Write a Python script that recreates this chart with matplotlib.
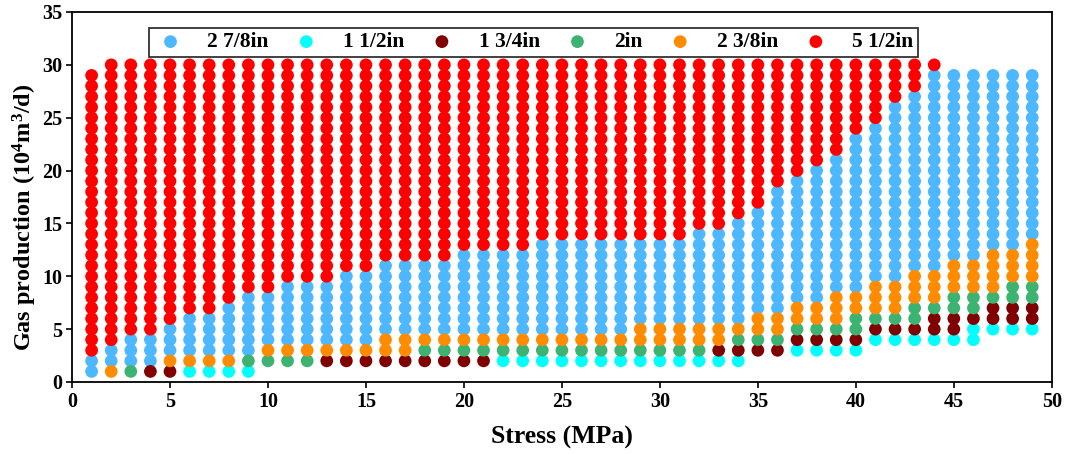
import matplotlib
matplotlib.use("Agg")
import matplotlib.pyplot as plt
import numpy as np

# Stress values (MPa)
stress = list(range(1, 50))

# Lowest gas-production level (10^4 m3/d) drawn for each stress
start_level = [1]*9 + [2]*25 + [3]*6 + [4]*6 + [5]*3

# Number of points per tubing size at each stress (stacked bottom->top in order
# 1 1/2in, 1 3/4in, 2in, 2 3/8in, 2 7/8in, 5 1/2in)
n_1_1_2 = [0,0,0,0,0,1,1,1,1] + [0]*12 + [1]*13 + [0,0] + [1,1,1,1] + [1,1,1,1,1,2] + [1,1,1]
n_1_3_4 = [0,0,0,1,1] + [0]*7 + [1]*9 + [0]*11 + [1,1,1,1] + [1,1,1,1] + [1,1,1,2,2,1] + [2,2,2]
n_2 = [0,0,1,0,0,0,0,0,1,1,1,1] + [0]*5 + [1]*15 + [0] + [1,1,1,1,1,1,2] + [1,1,2,1,2,2] + [1,2,2]
n_2_3_8 = [0,1,0,0,1,1,1,1,0] + [1]*6 + [2,2] + [1]*11 + [2]*5 + [1] + [2,2,2,2,3,2] + [3,3,3,3,3,3] + [4,3,4]
n_2_7_8 = [2,2,3,3,3,4,4,5,6,5,6,6,6,7,7,7,7,7,7,8,8,8,8,9,9,9,9,9,
           8,8,8,9,9,10,10,12,12,13,13,15,15,17,17,19,18,18,17,17,16]
n_5_1_2 = [27,27,26,26,25,24,24,23,22,22,21,21,21,20,20,19,19,19,19,18,18,18,18,
           17,17,17,17,17,17,17,17,16,16,15,14,12,11,10,9,7,6,4,3,1,0,0,0,0,0]

labels = ["2 7/8in", "1 1/2in", "1 3/4in", "2in", "2 3/8in", "5 1/2in"]
colors = {"2 7/8in": "#4DB8FF", "1 1/2in": "#00FFFF", "1 3/4in": "#800000",
          "2in": "#3CB371", "2 3/8in": "#FF8C00", "5 1/2in": "#FF0000"}
stack_order = ["1 1/2in", "1 3/4in", "2in", "2 3/8in", "2 7/8in", "5 1/2in"]
counts = {"1 1/2in": n_1_1_2, "1 3/4in": n_1_3_4, "2in": n_2,
          "2 3/8in": n_2_3_8, "2 7/8in": n_2_7_8, "5 1/2in": n_5_1_2}

pts = {k: ([], []) for k in labels}
for i, s in enumerate(stress):
    lvl = start_level[i]
    for k in stack_order:
        for _ in range(counts[k][i]):
            pts[k][0].append(s)
            pts[k][1].append(lvl)
            lvl += 1

plt.rcParams['font.family'] = ['Liberation Serif', 'DejaVu Serif']
plt.rcParams['mathtext.fontset'] = 'custom'
plt.rcParams['mathtext.rm'] = 'Liberation Serif:bold'
plt.rcParams['mathtext.it'] = 'Liberation Serif:bold'
plt.rcParams['mathtext.bf'] = 'Liberation Serif:bold'

fig = plt.figure(figsize=(10.7, 4.54), dpi=100)
ax = fig.add_axes([0.0673, 0.1586, 0.9157, 0.815])

handles = []
for k in labels:
    h = ax.scatter(pts[k][0], pts[k][1], s=84, color=colors[k], edgecolors='none',
                   label=k, zorder=3)
    handles.append(h)

ax.set_xlim(0, 50)
ax.set_ylim(0, 35)
ax.set_xticks(range(0, 51, 5))
ax.set_yticks(range(0, 36, 5))
for lab in ax.get_xticklabels() + ax.get_yticklabels():
    lab.set_fontweight('bold')
    lab.set_fontsize(14.5)
for sp in ax.spines.values():
    sp.set_linewidth(1.3)
ax.tick_params(direction='out', length=4, width=1.2, pad=3)

ax.set_xlabel("Stress (MPa)", fontsize=18.5, fontweight='bold', labelpad=10)
ax.set_ylabel(r"Gas production (10$^{4}$m$^{3}$/d)", fontsize=17.5, fontweight='bold')
ax.yaxis.set_label_coords(-0.034, 0.446)

leg = ax.legend(handles=handles, labels=labels, loc='upper center',
                bbox_to_anchor=(0.471, 0.957), ncol=6, frameon=True, fancybox=False,
                edgecolor='black', prop={'weight': 'bold', 'size': 15.5},
                handletextpad=0.9, columnspacing=0.95, borderpad=0.2,
                borderaxespad=0.0, handlelength=1.6, markerscale=1.0)
leg.get_frame().set_linewidth(1.3)
leg.set_zorder(5)

fig.savefig("out.png", dpi=100)
